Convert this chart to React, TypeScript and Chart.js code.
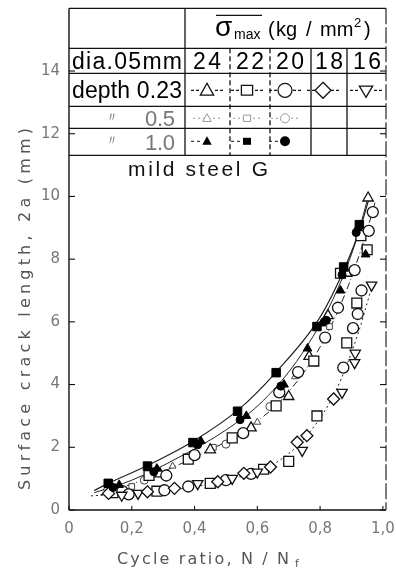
import React, { useEffect, useRef } from 'react';
import { Chart, registerables } from 'chart.js';

Chart.register(...registerables);

// ---------- axis ticks ----------
const xTickValues = [0, 0.2, 0.4, 0.6, 0.8, 1.0];
const xTickLabels = ['0', '0,2', '0,4', '0,6', '0,8', '1,0'];
const yTickValues = [0, 2, 4, 6, 8, 10, 12, 14];
const yTickLabels = ['0', '2', '4', '6', '8', '10', '12', '14'];

// ---------- table texts ----------
const stressLevels = ['24', '22', '20', '18', '16'];
const tableTitle = 'mild steel G';

// ---------- data: [cycle ratio, crack length 2a (mm)] ----------
// depth 1.0 (filled)
const filledTri24: number[][] = [[0.16, 0.8], [0.28, 1.32], [0.42, 2.2], [0.565, 3.0], [0.685, 4.0], [0.76, 5.15], [0.805, 5.95], [0.865, 7.0], [0.945, 8.15], [0.92, 9.0]];
const filledSq22: number[][] = [[0.125, 0.85], [0.25, 1.4], [0.395, 2.15], [0.537, 3.15], [0.66, 4.38], [0.79, 5.85], [0.875, 7.75], [0.925, 9.1]];
const filledCirc20: number[][] = [[0.14, 0.72], [0.27, 1.22], [0.41, 2.08], [0.545, 2.88], [0.675, 3.95], [0.82, 6.05], [0.87, 7.5], [0.915, 8.85]];
// depth 0.23 (open)
const openTri24: number[][] = [[0.13, 0.62], [0.29, 1.15], [0.45, 1.92], [0.58, 2.62], [0.7, 3.62], [0.765, 4.9], [0.825, 6.2], [0.885, 7.55], [0.953, 9.95]];
const openSq22: number[][] = [[0.15, 0.66], [0.255, 1.1], [0.38, 1.62], [0.52, 2.3], [0.66, 3.32], [0.78, 4.75], [0.865, 7.55], [0.95, 8.3], [0.93, 8.75], [0.79, 3.0], [0.885, 5.33], [0.917, 6.6], [0.14, 0.55], [0.28, 0.6], [0.45, 0.85], [0.62, 1.3], [0.7, 1.55]];
const openCirc20: number[][] = [[0.17, 0.6], [0.31, 1.1], [0.4, 1.75], [0.555, 2.45], [0.67, 3.75], [0.73, 4.4], [0.816, 5.5], [0.857, 6.45], [0.91, 7.65], [0.955, 8.9], [0.968, 9.5], [0.304, 0.63], [0.874, 4.54], [0.905, 5.8], [0.932, 7.0], [0.92, 6.25], [0.19, 0.5], [0.38, 0.75], [0.5, 0.95], [0.58, 1.15]];
const openDiamond18: number[][] = [[0.126, 0.53], [0.25, 0.58], [0.336, 0.69], [0.474, 0.9], [0.557, 1.17], [0.642, 1.37], [0.727, 2.16], [0.758, 2.37], [0.843, 3.54]];
const openInvTri16: number[][] = [[0.168, 0.47], [0.22, 0.53], [0.41, 0.84], [0.52, 1.01], [0.6, 1.21], [0.743, 1.9], [0.87, 3.75], [0.91, 4.7], [0.912, 5.0], [0.964, 7.17]];
// depth 0.5 (small)
const smallTri24: number[][] = [[0.12, 0.7], [0.33, 1.4], [0.6, 2.8], [0.72, 4.25]];
const smallSq22: number[][] = [[0.2, 0.75], [0.46, 2.0], [0.83, 5.85]];
const smallCirc20: number[][] = [[0.24, 0.95], [0.5, 2.1], [0.64, 3.3]];

// ---------- fitted curves ----------
const curveUpper: number[][] = [[0.08, 0.62], [0.125, 0.85], [0.25, 1.42], [0.4, 2.22], [0.54, 3.2], [0.66, 4.4], [0.8, 6.15], [0.88, 7.75], [0.93, 9.05], [0.955, 9.9]];
const curveMiddle: number[][] = [[0.08, 0.55], [0.2, 0.95], [0.35, 1.68], [0.5, 2.55], [0.62, 3.5], [0.74, 4.95], [0.84, 6.7], [0.91, 8.45], [0.955, 10.05]];
const curveLower: number[][] = [[0.1, 0.48], [0.25, 1.02], [0.4, 1.68], [0.55, 2.48], [0.68, 3.55], [0.8, 5.2], [0.88, 6.9], [0.94, 8.6], [0.975, 9.8]];
const curveBottom: number[][] = [[0.07, 0.45], [0.3, 0.6], [0.5, 0.95], [0.65, 1.45], [0.76, 2.4], [0.85, 3.8], [0.92, 5.6], [0.97, 7.3]];

const toPts = (a: number[][]) => a.map(([x, y]) => ({ x, y }));

function spacedText(ctx: CanvasRenderingContext2D, text: string, x: number, y: number, width: number) {
  const chars = Array.from(text);
  const widths = chars.map((c) => ctx.measureText(c).width);
  const total = widths.reduce((s, w) => s + w, 0);
  const gap = chars.length > 1 ? (width - total) / (chars.length - 1) : 0;
  let cx = x;
  const prevAlign = ctx.textAlign;
  ctx.textAlign = 'left';
  chars.forEach((c, i) => {
    ctx.fillText(c, cx, y);
    cx += widths[i] + gap;
  });
  ctx.textAlign = prevAlign;
}

function marker(ctx: CanvasRenderingContext2D, kind: string, x: number, y: number, r: number, filled: boolean) {
  ctx.beginPath();
  if (kind === 'tri') {
    ctx.moveTo(x, y - r);
    ctx.lineTo(x + r * 0.95, y + r * 0.7);
    ctx.lineTo(x - r * 0.95, y + r * 0.7);
    ctx.closePath();
  } else if (kind === 'inv') {
    ctx.moveTo(x, y + r);
    ctx.lineTo(x + r * 0.95, y - r * 0.6);
    ctx.lineTo(x - r * 0.95, y - r * 0.6);
    ctx.closePath();
  } else if (kind === 'sq') {
    ctx.rect(x - r * 0.8, y - r * 0.7, r * 1.6, r * 1.4);
  } else if (kind === 'dia') {
    ctx.moveTo(x, y - r);
    ctx.lineTo(x + r, y);
    ctx.lineTo(x, y + r);
    ctx.lineTo(x - r, y);
    ctx.closePath();
  } else {
    ctx.arc(x, y, r, 0, Math.PI * 2);
  }
  if (filled) {
    ctx.fill();
  } else {
    ctx.fillStyle = '#fff';
    ctx.fill();
    ctx.fillStyle = '#000';
    ctx.stroke();
  }
}

const decorPlugin = {
  id: 'decor',
  afterDraw(chart: any) {
    const { ctx, chartArea: a, scales } = chart;
    const xs = scales.x;
    const ys = scales.y;
    const line = (x1: number, y1: number, x2: number, y2: number) => {
      ctx.beginPath();
      ctx.moveTo(x1, y1);
      ctx.lineTo(x2, y2);
      ctx.stroke();
    };
    ctx.save();
    ctx.strokeStyle = '#111';
    ctx.fillStyle = '#000';

    // axes frame
    ctx.lineWidth = 1.4;
    line(a.left, a.top, a.left, a.bottom);
    line(a.left, a.bottom, a.right, a.bottom);
    ctx.lineWidth = 1.1;
    ctx.setLineDash([16, 3]);
    line(a.right, a.top, a.right, a.bottom);
    ctx.setLineDash([]);

    // inward ticks
    ctx.lineWidth = 1.1;
    yTickValues.forEach((v) => {
      const py = ys.getPixelForValue(v);
      line(a.left, py, a.left + 6, py);
      line(a.right, py, a.right - 6, py);
    });
    xTickValues.forEach((v) => {
      const px = xs.getPixelForValue(v);
      line(px, a.bottom, px, a.bottom - 4);
    });

    // ---------- table ----------
    const L = a.left;
    const R = a.right;
    const T = a.top;
    const rows = [T, T + 40, T + 65, T + 98, T + 120, T + 147];
    const colMain = L + 116;
    const cols = [L + 161, L + 201, L + 242, L + 278];
    ctx.lineWidth = 1.3;
    rows.forEach((ry) => line(L, ry, R, ry));
    line(colMain, T, colMain, rows[5]);
    ctx.setLineDash([5, 3]);
    line(cols[0], rows[1], cols[0], rows[5]);
    line(cols[1], rows[1], cols[1], rows[5]);
    ctx.setLineDash([]);
    line(cols[2], rows[1], cols[2], rows[5]);
    line(cols[3], rows[1], cols[3], rows[5]);

    // header  sigma_max (kg / mm^2)
    ctx.textBaseline = 'alphabetic';
    ctx.textAlign = 'left';
    ctx.font = '28px "Liberation Sans"';
    ctx.fillText('σ', 215, T + 28);
    ctx.font = '14px "Liberation Sans"';
    ctx.fillText('max', 234, T + 31);
    ctx.lineWidth = 1.2;
    line(216, T + 7, 262, T + 7);
    ctx.font = '20px "Liberation Sans"';
    ctx.fillText('(', 268, T + 28);
    ctx.fillText('kg', 276, T + 28);
    ctx.fillText('/', 306, T + 28);
    ctx.fillText('mm', 320, T + 28);
    ctx.font = '13px "Liberation Sans"';
    ctx.fillText('2', 354, T + 19);
    ctx.font = '20px "Liberation Sans"';
    ctx.fillText(')', 364, T + 28);

    // row: dia.05mm
    ctx.font = '23px "Liberation Sans"';
    spacedText(ctx, 'dia.05mm', L + 3, T + 61, 110);
    const numX = [207, 250, 290, 329, 367];
    stressLevels.forEach((s, i) => spacedText(ctx, s, numX[i] - 14, T + 61, 28));

    // row: depth 0.23
    ctx.font = '23px "Liberation Sans"';
    spacedText(ctx, 'depth 0.23', L + 3, T + 90, 110);
    const symX = [207, 247, 285, 323, 366];
    const kinds = ['tri', 'sq', 'circ', 'dia', 'inv'];
    const symY = T + 82;
    ctx.lineWidth = 1.3;
    kinds.forEach((k, i) => {
      ctx.setLineDash([3, 2]);
      line(symX[i] - 16, symY, symX[i] - 8, symY);
      line(symX[i] + 8, symY, symX[i] + 16, symY);
      ctx.setLineDash([]);
      marker(ctx, k, symX[i], symY, k === 'dia' ? 8 : 7, false);
    });

    // row: depth 0.5
    ctx.fillStyle = '#777';
    ctx.font = '14px "Liberation Sans"';
    ctx.fillText('〃', L + 36, T + 114);
    ctx.font = '22px "Liberation Sans"';
    spacedText(ctx, '0.5', L + 76, T + 118, 30);
    ctx.strokeStyle = '#999';
    ctx.lineWidth = 1;
    ['tri', 'sq', 'circ'].forEach((k, i) => {
      ctx.setLineDash([2, 3]);
      line(symX[i] - 14, T + 110, symX[i] + 14, T + 110);
      ctx.setLineDash([]);
      marker(ctx, k, symX[i], T + 110, 4.5, false);
    });

    // row: depth 1.0
    ctx.fillStyle = '#777';
    ctx.strokeStyle = '#888';
    ctx.font = '14px "Liberation Sans"';
    ctx.fillText('〃', L + 36, T + 137);
    ctx.font = '22px "Liberation Sans"';
    spacedText(ctx, '1.0', L + 76, T + 142, 30);
    ctx.fillStyle = '#000';
    ctx.strokeStyle = '#111';
    ['tri', 'sq', 'circ'].forEach((k, i) => {
      ctx.setLineDash([3, 3]);
      line(symX[i] - 16, T + 133, symX[i] - 7, T + 133);
      ctx.setLineDash([]);
      marker(ctx, k, symX[i], T + 133, 5, true);
    });

    // mild steel G
    ctx.fillStyle = '#111';
    ctx.font = '21px "Liberation Sans"';
    spacedText(ctx, tableTitle, 128, T + 168, 140);

    // axis titles
    ctx.fillStyle = '#555';
    ctx.font = '16px "DejaVu Sans"';
    ctx.save();
    ctx.translate(26, 490);
    ctx.rotate(-Math.PI / 2);
    ctx.textBaseline = 'middle';
    spacedText(ctx, 'Surface crack length, 2a (mm)', 0, 0, 362);
    ctx.restore();

    ctx.textBaseline = 'middle';
    spacedText(ctx, 'Cycle ratio, N / N', 117, 560, 172);
    ctx.font = '11px "DejaVu Sans"';
    ctx.fillText('f', 295, 564);

    ctx.restore();
  },
};

export default function App() {
  const ref = useRef<HTMLCanvasElement>(null);
  useEffect(() => {
    if (!ref.current) return;
    const open = (data: number[][], style: string, r: number, rot = 0) => ({
      data: toPts(data),
      pointStyle: style,
      pointRadius: r,
      rotation: rot,
      borderColor: '#111',
      backgroundColor: '#fff',
      borderWidth: 1.3,
      showLine: false,
      order: 1,
    });
    const filled = (data: number[][], style: string, r: number) => ({
      data: toPts(data),
      pointStyle: style,
      pointRadius: r,
      borderColor: '#000',
      backgroundColor: '#000',
      borderWidth: 1,
      showLine: false,
      order: 0,
    });
    const small = (data: number[][], style: string) => ({
      data: toPts(data),
      pointStyle: style,
      pointRadius: 4,
      borderColor: '#444',
      backgroundColor: '#fff',
      borderWidth: 1,
      showLine: false,
      order: 2,
    });
    const curve = (data: number[][], dash: number[], w: number) => ({
      data: toPts(data),
      showLine: true,
      pointRadius: 0,
      borderColor: '#222',
      borderWidth: w,
      borderDash: dash,
      cubicInterpolationMode: 'monotone',
      fill: false,
      order: 10,
    });
    const chart = new Chart(ref.current, {
      type: 'scatter',
      data: {
        datasets: [
          curve(curveUpper, [], 1.2),
          curve(curveMiddle, [], 1),
          curve(curveLower, [7, 3, 1, 3], 1),
          curve(curveBottom, [2, 3], 1),
          small(smallTri24, 'triangle'),
          small(smallSq22, 'rect'),
          small(smallCirc20, 'circle'),
          open(openDiamond18, 'rectRot', 6),
          open(openInvTri16, 'triangle', 6, 180),
          open(openCirc20, 'circle', 5.5),
          open(openSq22, 'rect', 7),
          open(openTri24, 'triangle', 6),
          filled(filledCirc20, 'circle', 4),
          filled(filledSq22, 'rect', 6),
          filled(filledTri24, 'triangle', 5),
        ] as any,
      },
      options: {
        animation: false,
        responsive: false,
        devicePixelRatio: 1,
        layout: { padding: { top: 5, right: 10, left: 0, bottom: 0 } },
        plugins: { legend: { display: false }, tooltip: { enabled: false } },
        scales: {
          x: {
            type: 'linear',
            min: 0,
            max: 1.01,
            afterFit: (s: any) => { s.height = 71; s.paddingLeft = 0; s.paddingRight = 0; },
            afterBuildTicks: (s: any) => { s.ticks = xTickValues.map((v) => ({ value: v })); },
            ticks: {
              callback: (_v: any, i: number) => xTickLabels[i],
              font: { size: 15, family: 'DejaVu Sans' },
              color: '#777',
              padding: 10,
              maxRotation: 0,
              autoSkip: false,
            },
            grid: { display: false, drawTicks: false },
            border: { display: false },
          },
          y: {
            type: 'linear',
            min: 0,
            max: 16,
            afterFit: (s: any) => { s.width = 69; s.paddingTop = 0; s.paddingBottom = 0; },
            afterBuildTicks: (s: any) => { s.ticks = yTickValues.map((v) => ({ value: v })); },
            ticks: {
              callback: (_v: any, i: number) => yTickLabels[i],
              font: { size: 15, family: 'DejaVu Sans' },
              color: '#777',
              padding: 9,
              autoSkip: false,
            },
            grid: { display: false, drawTicks: false },
            border: { display: false },
          },
        },
      } as any,
      plugins: [decorPlugin],
    });
    return () => chart.destroy();
  }, []);
  return (
    <div style={{ position: 'fixed', left: 0, top: 0, width: 396, height: 581, background: '#fff' }}>
      <canvas ref={ref} width={396} height={581} style={{ display: 'block' }} />
    </div>
  );
}
